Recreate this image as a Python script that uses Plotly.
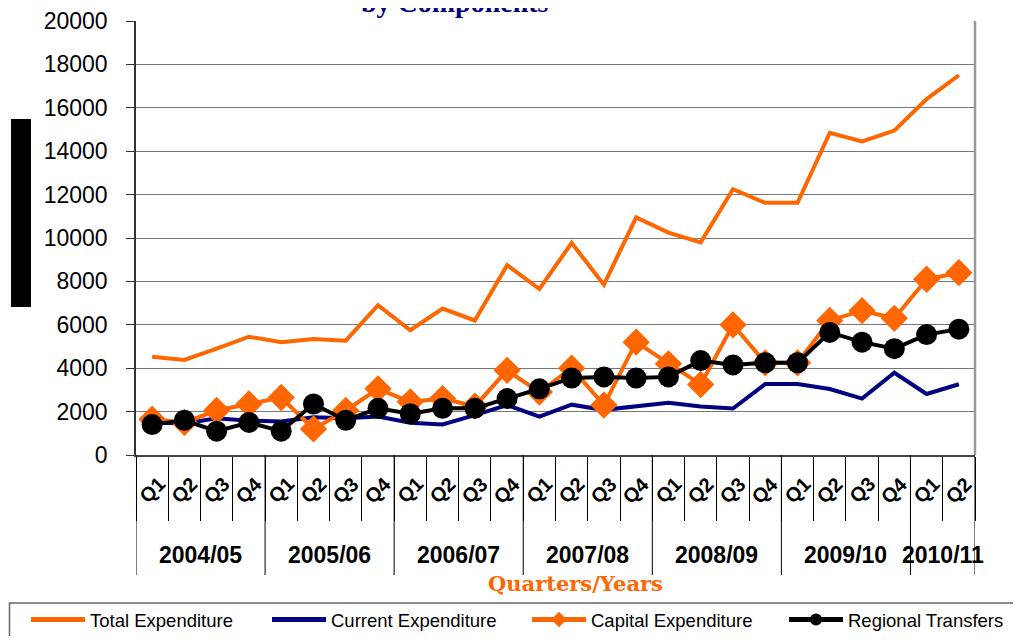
import plotly.graph_objects as go

years = ["2004/05"] * 4 + ["2005/06"] * 4 + ["2006/07"] * 4 + ["2007/08"] * 4 + ["2008/09"] * 4 + ["2009/10"] * 4 + ["2010/11"] * 2
quarters = ["Q1", "Q2", "Q3", "Q4"] * 6 + ["Q1", "Q2"]

total_exp = [4530, 4380, 4900, 5450, 5200, 5350, 5270, 6900, 5750, 6750, 6200, 8750,
             7650, 9770, 7850, 10950, 10250, 9800, 12250, 11620, 11620, 14850, 14450, 14950, 16400, 17500]
current_exp = [1500, 1450, 1690, 1580, 1540, 1740, 1690, 1770, 1490, 1410, 1840, 2300,
               1770, 2320, 2080, 2230, 2410, 2230, 2140, 3270, 3270, 3040, 2600, 3790, 2810, 3260]
capital_exp = [1650, 1500, 2050, 2350, 2650, 1200, 2050, 3050, 2450, 2600, 2250, 3900,
               2900, 4000, 2300, 5200, 4200, 3250, 6000, 4250, 4250, 6200, 6650, 6300, 8100, 8400]
regional_tr = [1400, 1600, 1100, 1500, 1100, 2350, 1600, 2150, 1900, 2150, 2150, 2600,
               3050, 3550, 3600, 3550, 3600, 4350, 4150, 4250, 4250, 5650, 5200, 4900, 5550, 5800]

ORANGE = "#FF6600"
NAVY = "#000080"
GRID = "#777777"

n = len(quarters)
xi = list(range(n))

# page body has an 8px margin; work in viewport pixels and convert
OFF = 8
W, H = 1021 - 2 * OFF, 644 - 2 * OFF
L, R, T, B = 136 - OFF, 975 - OFF, 21 - OFF, 455 - OFF
pw, ph = R - L, B - T


def py(ypix):  # viewport y -> paper
    return (B - (ypix - OFF)) / ph


def px(xpix):  # viewport x -> paper
    return ((xpix - OFF) - L) / pw


legend_font = dict(size=18.5, family="Arial, Liberation Sans, sans-serif", color="black")
legend_x = [26, 267, 527, 784]
legend_ids = ["legend", "legend2", "legend3", "legend4"]

fig = go.Figure()
fig.add_trace(go.Scatter(x=xi, y=total_exp, name="Total Expenditure", mode="lines",
                         line=dict(color=ORANGE, width=4), legend=legend_ids[0]))
fig.add_trace(go.Scatter(x=xi, y=current_exp, name="Current Expenditure", mode="lines",
                         line=dict(color=NAVY, width=4), legend=legend_ids[1]))
fig.add_trace(go.Scatter(x=xi, y=capital_exp, name="Capital Expenditure", mode="lines+markers",
                         line=dict(color=ORANGE, width=4),
                         marker=dict(symbol="diamond", size=21, color=ORANGE), legend=legend_ids[2]))
fig.add_trace(go.Scatter(x=xi, y=regional_tr, name="Regional Transfers", mode="lines+markers",
                         line=dict(color="black", width=4),
                         marker=dict(symbol="circle", size=21, color="black"), legend=legend_ids[3]))

legend_cfg = {}
for lid, lx in zip(legend_ids, legend_x):
    legend_cfg[lid] = dict(orientation="h", x=px(lx), y=py(601), xanchor="left", yanchor="top",
                           borderwidth=0, bgcolor="rgba(0,0,0,0)", font=legend_font, itemwidth=54,
                           itemsizing="constant")

fig.update_layout(
    width=W, height=H,
    margin=dict(l=L, r=W - R, t=T, b=H - B, autoexpand=False),
    plot_bgcolor="white", paper_bgcolor="white",
    font=dict(family="Arial, Liberation Sans, sans-serif", color="black"),
    showlegend=True,
    **legend_cfg,
)

boundaries = [i - 0.5 for i in range(n + 1)]

fig.update_yaxes(range=[0, 20000], dtick=2000, tickformat="d", showgrid=True, gridcolor=GRID, gridwidth=1,
                 showline=True, linecolor="#333333", linewidth=1.5, ticks="outside", ticklen=8,
                 tickcolor="#333333", tickfont=dict(size=23, family="Arial, Liberation Sans"),
                 ticklabelstandoff=14, zeroline=False, automargin=False)
fig.update_xaxes(range=[-0.5, n - 0.5], showline=True, linecolor="#444444", linewidth=2,
                 showticklabels=False, ticks="", showgrid=False, zeroline=False,
                 automargin=False,
                 minor=dict(tickvals=boundaries, ticks="outside", ticklen=64, tickcolor="black", tickwidth=1))

# right border of plot area
fig.add_shape(type="line", xref="paper", yref="paper", x0=1, x1=1, y0=0, y1=1,
              line=dict(color="#999999", width=2.5))

# quarter labels
for i, q in enumerate(quarters):
    fig.add_annotation(text="<b>%s</b>" % q, x=i, xref="x", y=py(490), yref="paper",
                       textangle=-45, showarrow=False, xanchor="center", yanchor="middle",
                       font=dict(size=20, family="Arial, Liberation Sans", color="black"))

# year labels and dividers
groups = []
for i, yv in enumerate(years):
    if not groups or groups[-1][0] != yv:
        groups.append([yv, i, i])
    else:
        groups[-1][2] = i
for yv, a, b in groups:
    fig.add_annotation(text="<b>%s</b>" % yv, x=(a + b) / 2, xref="x", y=py(555), yref="paper",
                       showarrow=False, xanchor="center", yanchor="middle",
                       font=dict(size=23, family="Arial, Liberation Sans", color="black"))
    fig.add_shape(type="line", xref="x", yref="paper", x0=a - 0.5, x1=a - 0.5, y0=0, y1=py(575),
                  line=dict(color="black", width=1))
fig.add_shape(type="line", xref="x", yref="paper", x0=n - 0.5, x1=n - 0.5, y0=0, y1=py(575),
              line=dict(color="black", width=1))

# title (cut off at the top, as in the source)
fig.add_annotation(text="<b>by Components</b>", xref="paper", yref="paper",
                   x=px(455), y=py(20), xanchor="center", yanchor="bottom",
                   showarrow=False, font=dict(size=28, family="Liberation Serif, Times New Roman", color=NAVY))
# x-axis title
fig.add_annotation(text="<b>Quarters/Years</b>", xref="paper", yref="paper",
                   x=px(575), y=py(583), xanchor="center", yanchor="middle",
                   showarrow=False, font=dict(size=21, family="DejaVu Serif, Liberation Serif", color=ORANGE))
# y-axis title block
fig.add_shape(type="rect", xref="paper", yref="paper",
              x0=px(11), x1=px(31), y0=py(307), y1=py(119),
              fillcolor="black", line=dict(width=0))
# legend frame
fig.add_shape(type="rect", xref="paper", yref="paper",
              x0=px(9.5), x1=px(1040), y0=py(670), y1=py(603),
              fillcolor="rgba(0,0,0,0)", line=dict(color="#666666", width=1.5), layer="below")

fig.write_html("out.html")
